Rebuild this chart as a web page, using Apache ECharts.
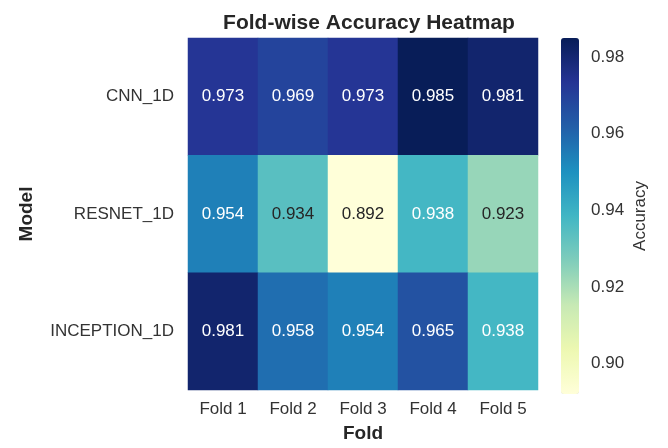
<!DOCTYPE html>
<html>
<head>
<meta charset="utf-8">
<script src="https://cdn.jsdelivr.net/npm/echarts@6/dist/echarts.min.js"></script>
<style>
html,body{margin:0;padding:0;background:#fff;}
#chart{width:668px;height:448px;}
</style>
</head>
<body>
<div id="chart"></div>
<script>
var folds = ['Fold 1', 'Fold 2', 'Fold 3', 'Fold 4', 'Fold 5'];
var models = ['CNN_1D', 'RESNET_1D', 'INCEPTION_1D'];
var cnn = [0.973, 0.969, 0.973, 0.985, 0.981];
var resnet = [0.954, 0.934, 0.892, 0.938, 0.923];
var inception = [0.981, 0.958, 0.954, 0.965, 0.938];
var barTicks = [0.90, 0.92, 0.94, 0.96, 0.98];
var vmin = 0.892, vmax = 0.985;

var rows = [cnn, resnet, inception];
var data = [];
for (var r = 0; r < rows.length; r++) {
    for (var c = 0; c < folds.length; c++) {
        data.push([c, r, rows[r][c]]);
    }
}

var chart = echarts.init(document.getElementById('chart'));
var font = 'Liberation Sans, Arial, sans-serif';
var option = {
    animation: false,
    backgroundColor: '#fff',
    textStyle: {fontFamily: font},
    title: {
        text: 'Fold-wise Accuracy Heatmap',
        left: 364, top: 8, textAlign: 'center',
        textStyle: {fontSize: 21, fontWeight: 'bold', color: '#262626', fontFamily: font}
    },
    grid: [
        {left: 188, top: 38, width: 350, height: 356},
        {left: 561, top: 38, width: 18, height: 356}
    ],
    xAxis: [
        {
            type: 'category', data: folds, gridIndex: 0,
            axisLine: {show: false}, axisTick: {show: false}, splitLine: {show: false},
            axisLabel: {fontSize: 17, color: '#333', margin: 11},
            name: 'Fold', nameLocation: 'middle', nameGap: 34,
            nameTextStyle: {fontSize: 19, fontWeight: 'bold', color: '#262626'}
        },
        {type: 'value', gridIndex: 1, show: false, min: 0, max: 1}
    ],
    yAxis: [
        {
            type: 'category', data: models, inverse: true, gridIndex: 0,
            axisLine: {show: false}, axisTick: {show: false}, splitLine: {show: false},
            axisLabel: {fontSize: 17, color: '#333', margin: 14},
            name: 'Model', nameLocation: 'middle', nameGap: 152, nameRotate: 90,
            nameTextStyle: {fontSize: 19, fontWeight: 'bold', color: '#262626'}
        },
        {
            type: 'value', gridIndex: 1, position: 'right', min: vmin, max: vmax,
            axisLine: {show: false}, axisTick: {show: false}, splitLine: {show: false},
            axisLabel: {
                customValues: barTicks, fontSize: 17, color: '#333', margin: 12,
                formatter: function (v) { return v.toFixed(2); }
            },
            name: 'Accuracy', nameLocation: 'middle', nameGap: 53, nameRotate: 90,
            nameTextStyle: {fontSize: 17, color: '#333'}
        }
    ],
    visualMap: {
        type: 'continuous', min: vmin, max: vmax, seriesIndex: 0,
        calculable: false, showLabel: false, text: ['', ''],
        orient: 'vertical', left: 561, top: 38, padding: 0,
        itemWidth: 18, itemHeight: 356,
        inRange: {color: ['#ffffd9', '#edf8b1', '#c7e9b4', '#7fcdbb', '#41b6c4', '#1d91c0', '#225ea8', '#253494', '#081d58']}
    },
    series: [{
        type: 'heatmap', xAxisIndex: 0, yAxisIndex: 0, data: data,
        itemStyle: {borderWidth: 0},
        label: {
            show: true, fontSize: 17, fontFamily: font,
            formatter: function (p) { return p.value[2].toFixed(3); },
            color: '#fff'
        },
        emphasis: {disabled: true}
    }]
};
// dark labels on light cells
option.series[0].data = data.map(function (d) {
    return d[2] < 0.936 ? {value: d, label: {color: '#262626'}} : {value: d};
});
chart.setOption(option);
</script>
</body>
</html>
